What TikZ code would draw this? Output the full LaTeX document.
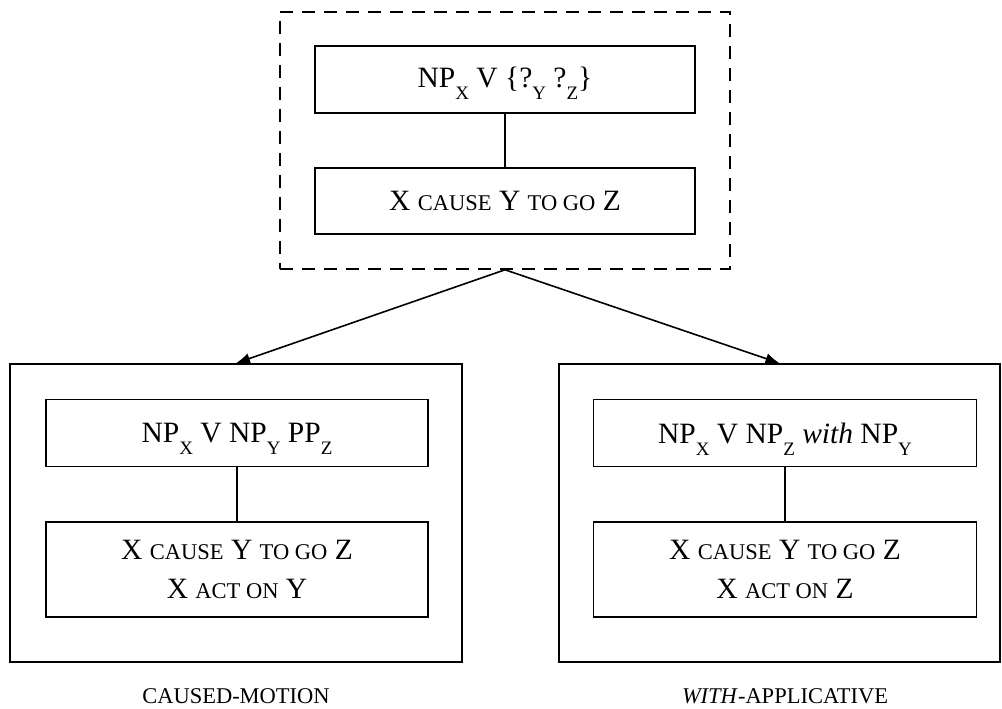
\documentclass[tikz,border=0pt]{standalone}
\usepackage{fontspec}
\setmainfont{Liberation Serif}
\usepackage{tikz}
\usetikzlibrary{positioning}
\usetikzlibrary{arrows.meta}
\tikzset{box/.style={draw,rectangle,line width=1.6pt,minimum width=382pt,
                     minimum height=67pt,inner sep=0pt,align=center},
         frame/.style={draw,rectangle,line width=1.6pt,inner sep=0pt},
         dashframe/.style={frame,dash pattern=on 13pt off 9pt},
         link/.style={draw,line width=1.6pt},
         arr/.style={draw,line width=1.6pt,-{Latex[length=14pt,width=11pt]}},
         caption/.style={inner sep=0pt}}
\newcommand{\sub}[1]{\raisebox{-12pt}[0pt][0pt]{\fontsize{19}{19}\selectfont #1}}
\newcommand{\smc}[1]{{\fontsize{22.5}{27}\selectfont #1}}

\begin{document}
\begin{tikzpicture}[x=1pt,y=1pt,font=\fontsize{29.5}{39}\selectfont]
  \useasboundingbox (0,0) rectangle (1002,709);
  % top construction
  \node[dashframe,minimum width=450pt,minimum height=257pt] (gen) at (505,568.5) {};
  \node[box,minimum width=380pt] (gform) at (505,629.5) {NP\sub{X} V \{?\sub{Y} ?\sub{Z}\}};
  \node[box,minimum width=380pt,minimum height=66pt] (gsem) at (505,508) {X \smc{CAUSE} Y \smc{TO GO} Z};
  \draw[link] (gform) -- (gsem);
  % caused-motion
  \node[frame,minimum width=452pt,minimum height=298pt] (cm) at (236,196) {};
  \node[box] (cmform) at (237,276) {NP\sub{X} V NP\sub{Y} PP\sub{Z}};
  \node[box,minimum height=95pt] (cmsem) at (237,139.5)
    {X \smc{CAUSE} Y \smc{TO GO} Z\\ X \smc{ACT ON} Y};
  \draw[link] (cmform) -- (cmsem);
  \node[caption,below=26pt of cm] (cmlab) {\smc{CAUSED-MOTION}};
  % with-applicative
  \node[frame,minimum width=441pt,minimum height=298pt] (wa) at (779.5,196) {};
  \node[box,minimum width=383pt] (waform) at (785,276) {NP\sub{X} V NP\sub{Z} \textit{with} NP\sub{Y}};
  \node[box,minimum width=383pt,minimum height=95pt] (wasem) at (785,139.5)
    {X \smc{CAUSE} Y \smc{TO GO} Z\\ X \smc{ACT ON} Z};
  \draw[link] (waform) -- (wasem);
  \node[caption,below=26pt of wa.south -| waform] (walab)
    {\smc{\textit{WITH}-APPLICATIVE}};
  % inheritance
  \draw[arr] (gen.south) -- (cm.north);
  \draw[arr] (gen.south) -- (wa.north);
\end{tikzpicture}
\end{document}
